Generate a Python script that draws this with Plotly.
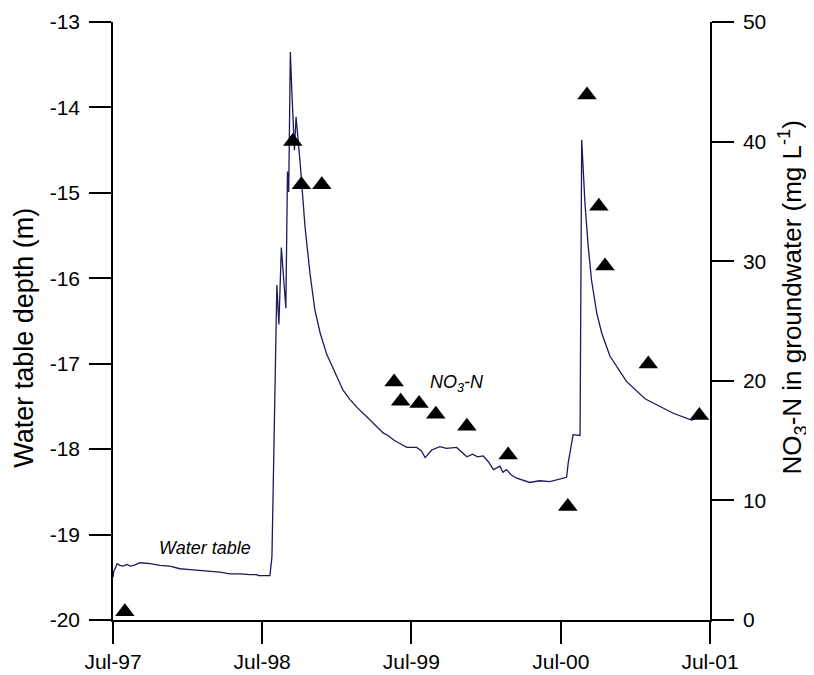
import plotly.graph_objects as go

# water table depth (m)
wt_dates = [
    "1997-07-01", "1997-07-03", "1997-07-08", "1997-07-11", "1997-07-18", "1997-07-25",
    "1997-08-04", "1997-08-12", "1997-08-21", "1997-09-05", "1997-09-30",
    "1997-10-24", "1997-11-17", "1997-12-12", "1998-01-05", "1998-01-30",
    "1998-02-23", "1998-03-20", "1998-04-13", "1998-05-08", "1998-06-01",
    "1998-06-18", "1998-06-21", "1998-07-20", "1998-07-25", "1998-08-03",
    "1998-08-06", "1998-08-11", "1998-08-17", "1998-08-28", "1998-09-01",
    "1998-09-04", "1998-09-08", "1998-09-12", "1998-09-18", "1998-09-22",
    "1998-10-02", "1998-10-14", "1998-10-26", "1998-11-07", "1998-11-20",
    "1998-12-06", "1998-12-20", "1999-01-03", "1999-01-15", "1999-02-01",
    "1999-02-20", "1999-03-14", "1999-04-02", "1999-04-23", "1999-05-05",
    "1999-05-18", "1999-06-05", "1999-06-20", "1999-07-14", "1999-07-26",
    "1999-08-04", "1999-08-12", "1999-08-20", "1999-09-09", "1999-09-25",
    "1999-10-20", "1999-11-01", "1999-11-14", "1999-11-28", "1999-12-10",
    "1999-12-24", "2000-01-06", "2000-01-18", "2000-02-03", "2000-02-10",
    "2000-02-19", "2000-03-01", "2000-03-15", "2000-04-16", "2000-05-10",
    "2000-06-04", "2000-07-15", "2000-07-19", "2000-07-31", "2000-08-17",
    "2000-08-21", "2000-08-29", "2000-09-06", "2000-09-14", "2000-09-27",
    "2000-10-09", "2000-10-29", "2000-12-09", "2001-01-23", "2001-04-02",
    "2001-05-17", "2001-06-09",
]
wt_depth = [
    -19.50, -19.43, -19.38, -19.34, -19.36, -19.37,
    -19.35, -19.37, -19.36, -19.33, -19.34,
    -19.36, -19.37, -19.40, -19.41, -19.42,
    -19.43, -19.44, -19.46, -19.46, -19.47,
    -19.47, -19.48, -19.48, -19.26, -16.60,
    -16.08, -16.54, -15.64, -16.35, -14.75,
    -14.99, -13.35, -13.85, -14.50, -14.11,
    -14.65, -15.40, -15.94, -16.37, -16.64,
    -16.89, -17.04, -17.19, -17.31, -17.42,
    -17.52, -17.62, -17.71, -17.81, -17.84,
    -17.89, -17.94, -17.98, -17.98, -18.02,
    -18.10, -18.06, -18.01, -17.97, -17.99,
    -17.98, -18.03, -18.09, -18.06, -18.09,
    -18.08, -18.15, -18.24, -18.20, -18.27,
    -18.24, -18.30, -18.34, -18.39, -18.37,
    -18.38, -18.33, -18.16, -17.83, -17.84,
    -14.38, -15.12, -15.63, -16.02, -16.41,
    -16.64, -16.91, -17.21, -17.41, -17.58,
    -17.66, -17.62,
]

# NO3-N in groundwater (mg/L)
no3_dates = [
    "1997-07-30", "1998-09-14", "1998-10-05", "1998-11-24", "1999-05-20",
    "1999-06-05", "1999-07-20", "1999-08-30", "1999-11-14", "2000-02-23",
    "2000-07-18", "2000-09-03", "2000-10-02", "2000-10-17", "2001-01-31",
    "2001-06-05",
]
no3_conc = [
    0.7, 40.0, 36.4, 36.4, 19.9,
    18.3, 18.1, 17.2, 16.2, 13.8,
    9.5, 43.9, 34.6, 29.6, 21.4,
    17.1,
]

tick_dates = ["1997-07-01", "1998-07-01", "1999-07-01", "2000-07-01", "2001-07-01"]
tick_text = ["Jul-97", "Jul-98", "Jul-99", "Jul-00", "Jul-01"]
depth_ticks = [-20, -19, -18, -17, -16, -15, -14, -13]
depth_text = ["-20", "-19", "-18", "-17", "-16", "-15", "-14", "-13"]

FONT = "Liberation Sans, Arial, sans-serif"

fig = go.Figure()

fig.add_trace(go.Scatter(
    x=wt_dates, y=wt_depth,
    mode="lines",
    line={"color": "#1a1a5e", "width": 1.3},
    name="Water table",
    yaxis="y",
))
fig.add_trace(go.Scatter(
    x=no3_dates, y=no3_conc,
    mode="markers",
    marker={"symbol": "triangle-up", "size": 17, "color": "black"},
    name="NO3-N",
    yaxis="y2",
    cliponaxis=False,
))

axis_common = dict(
    showline=True, linecolor="black", linewidth=1.5,
    ticks="outside", ticklen=22, tickwidth=1.5, tickcolor="black",
    showgrid=False, zeroline=False, automargin=False,
    tickfont={"size": 21, "color": "black", "family": FONT},
)

fig.update_layout(
    width=814, height=675,
    margin={"l": 105, "r": 112, "t": 14, "b": 63},
    paper_bgcolor="white", plot_bgcolor="white",
    showlegend=False,
    font={"family": FONT, "color": "black"},
    xaxis=dict(
        axis_common,
        range=["1997-07-01", "2001-07-01"],
        tickvals=tick_dates, ticktext=tick_text,
    ),
    yaxis=dict(
        axis_common,
        range=[-20, -13],
        tickvals=depth_ticks, ticktext=depth_text,
        ticklabelstandoff=5,
    ),
    yaxis2=dict(
        axis_common,
        range=[0, 50], dtick=10,
        overlaying="y", side="right",
        ticklabelstandoff=5,
    ),
    annotations=[
        dict(x="1998-02-11", y=-19.16, xref="x", yref="y", text="<i>Water table</i>",
             showarrow=False, font={"size": 18}),
        dict(x="1999-10-20", y=19.75, xref="x", yref="y2", text="<i>NO<sub>3</sub>-N</i>",
             showarrow=False, font={"size": 18}),
        # axis titles
        dict(x=-0.149, y=0.472, xref="paper", yref="paper", text="Water table depth (m)",
             textangle=-90, showarrow=False, font={"size": 27},
             xanchor="center", yanchor="middle"),
        dict(x=1.138, y=0.54, xref="paper", yref="paper",
             text="NO<sub>3</sub>-N in groundwater (mg L<sup>-1</sup>)",
             textangle=-90, showarrow=False, font={"size": 26},
             xanchor="center", yanchor="middle"),
    ],
)

fig.write_html("out.html")
